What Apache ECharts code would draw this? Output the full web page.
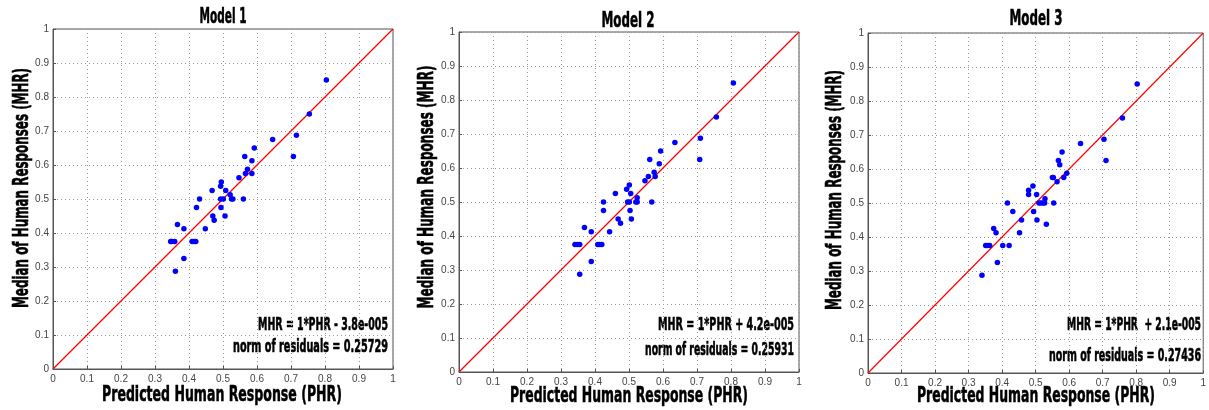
<!DOCTYPE html>
<html><head><meta charset="utf-8">
<script src="https://cdn.jsdelivr.net/npm/echarts@6/dist/echarts.min.js"></script>
<style>html,body{margin:0;padding:0;background:#fff}#c{width:1209px;height:410px}</style>
</head><body><div id="c"></div>
<script>
const titles = ["Model 1", "Model 2", "Model 3"];
const xName = "Predicted Human Response (PHR)";
const yName = "Median of Human Responses (MHR)";
const eqText = ["MHR = 1*PHR - 3.8e-005", "MHR = 1*PHR + 4.2e-005", "MHR = 1*PHR  + 2.1e-005"];
const normText = ["norm of residuals = 0.25729", "norm of residuals = 0.25931", "norm of residuals = 0.27436"];
const fitX = [0, 1];
const fitY1 = [-0.000038, 0.999962];
const fitY2 = [0.000042, 1.000042];
const fitY3 = [0.000021, 1.000021];

const m1x = [0.804,0.754,0.646,0.716,0.707,0.592,0.564,0.585,0.572,0.566,0.585,0.547,0.495,0.493,0.468,0.508,0.521,0.493,0.501,0.525,0.529,0.560,0.431,0.422,0.494,0.470,0.506,0.474,0.448,0.385,0.366,0.346,0.350,0.358,0.409,0.415,0.420,0.385,0.360];
const m1y = [0.85,0.75,0.675,0.6875,0.625,0.65,0.625,0.6125,0.5875,0.575,0.575,0.5625,0.55,0.5375,0.525,0.525,0.5125,0.5,0.5,0.5,0.5,0.5,0.5,0.475,0.475,0.45,0.45,0.4375,0.4125,0.4125,0.425,0.375,0.375,0.375,0.375,0.375,0.375,0.325,0.2875];
const m2x = [0.807,0.757,0.635,0.710,0.708,0.593,0.561,0.589,0.574,0.557,0.577,0.547,0.501,0.493,0.460,0.505,0.524,0.496,0.501,0.520,0.524,0.567,0.425,0.425,0.503,0.468,0.507,0.475,0.443,0.389,0.369,0.341,0.348,0.355,0.408,0.414,0.420,0.389,0.355];
const m2y = [0.85,0.75,0.675,0.6875,0.625,0.65,0.625,0.6125,0.5875,0.575,0.575,0.5625,0.55,0.5375,0.525,0.525,0.5125,0.5,0.5,0.5,0.5,0.5,0.5,0.475,0.475,0.45,0.45,0.4375,0.4125,0.4125,0.425,0.375,0.375,0.375,0.375,0.375,0.375,0.325,0.2875];
const m3x = [0.803,0.759,0.634,0.704,0.710,0.579,0.568,0.572,0.593,0.550,0.553,0.584,0.564,0.492,0.479,0.479,0.503,0.528,0.510,0.516,0.522,0.527,0.554,0.416,0.432,0.494,0.458,0.504,0.532,0.452,0.382,0.375,0.351,0.357,0.363,0.402,0.421,0.386,0.340];
const m3y = [0.85,0.75,0.675,0.6875,0.625,0.65,0.625,0.6125,0.5875,0.575,0.575,0.575,0.5625,0.55,0.5375,0.525,0.525,0.5125,0.5,0.5,0.5,0.5,0.5,0.5,0.475,0.475,0.45,0.45,0.4375,0.4125,0.4125,0.425,0.375,0.375,0.375,0.375,0.375,0.325,0.2875];

const xs = [m1x, m2x, m3x], ys = [m1y, m2y, m3y], fits = [fitY1, fitY2, fitY3];
const grids = [
  {left: 53, top: 29, width: 340, height: 340},
  {left: 459, top: 32, width: 340, height: 340},
  {left: 868, top: 33, width: 340, height: 340}
];
// layout of the heavy condensed labels: [centre/right x, centre y, target width]
const titleBox = [[223, 17.5, 47], [628, 21.5, 53], [1036, 20, 53]];
const xNameBox = [[222, 395.5, 240], [629, 396, 238], [1036, 396, 238]];
const yNameBox = [[22, 188, 240], [427, 187, 243], [835, 190, 240]];
const eqBox = [[388, 326, 130], [794, 326, 136], [1201, 326, 134]];
const normBox = [[388, 347.5, 155], [794, 351, 149], [1201, 356.5, 152]];

const FAM = "'DejaVu Sans',sans-serif";
const TICKFONT = "'Liberation Sans',Arial,sans-serif";
const mctx = document.createElement('canvas').getContext('2d');
function measure(text, font) { mctx.font = font; return mctx.measureText(text).width; }
function heavy(text, size, box, align, rot) {
  const font = 'bold ' + size + 'px ' + FAM;
  const w = measure(text, font);
  return {
    type: 'text', x: box[0], y: box[1], rotation: rot || 0, scaleX: box[2] / w, silent: true,
    style: {text: text, font: font, fill: '#000', stroke: '#000', lineWidth: 0.6,
      align: align, verticalAlign: 'middle', x: 0, y: 0}
  };
}

const chart = echarts.init(document.getElementById('c'), null, {renderer: 'canvas'});
const graphics = [];
for (let i = 0; i < 3; i++) {
  graphics.push(heavy(titles[i], 21, titleBox[i], 'center'));
  graphics.push(heavy(xName, 22, xNameBox[i], 'center'));
  graphics.push(heavy(yName, 22, yNameBox[i], 'center', Math.PI / 2));
  graphics.push(heavy(eqText[i], 17, eqBox[i], 'right'));
  graphics.push(heavy(normText[i], 17, normBox[i], 'right'));
}
const option = {
  animation: false,
  backgroundColor: '#fff',
  grid: grids.map(g => Object.assign({show: true, borderColor: '#555', borderWidth: 1, backgroundColor: 'transparent'}, g)),
  xAxis: grids.map((g, i) => ({
    type: 'value', gridIndex: i, min: 0, max: 1, interval: 0.1,
    axisLine: {show: true, lineStyle: {color: '#555', width: 1}},
    axisTick: {show: true, inside: true, length: 3, lineStyle: {color: '#555'}},
    axisLabel: {fontFamily: TICKFONT, fontSize: 10, color: '#444', margin: 5,
      formatter: v => String(Math.round(v * 10) / 10)},
    splitLine: {show: true, lineStyle: {color: '#999', type: [1, 3], width: 1}}
  })),
  yAxis: grids.map((g, i) => ({
    type: 'value', gridIndex: i, min: 0, max: 1, interval: 0.1,
    axisLine: {show: true, lineStyle: {color: '#555', width: 1}},
    axisTick: {show: true, inside: true, length: 3, lineStyle: {color: '#555'}},
    axisLabel: {fontFamily: TICKFONT, fontSize: 10, color: '#444', margin: 4,
      formatter: v => String(Math.round(v * 10) / 10)},
    splitLine: {show: true, lineStyle: {color: '#999', type: [1, 3], width: 1}}
  })),
  series: [].concat(...[0, 1, 2].map(i => [
    {
      type: 'line', xAxisIndex: i, yAxisIndex: i, data: fitX.map((x, k) => [x, fits[i][k]]),
      showSymbol: false, symbol: 'none', lineStyle: {color: '#ff0000', width: 1.2}, z: 3, silent: true
    },
    {
      type: 'scatter', xAxisIndex: i, yAxisIndex: i, data: xs[i].map((x, k) => [x, ys[i][k]]),
      symbol: 'circle', symbolSize: 5.5, itemStyle: {color: '#0000ff', opacity: 1}, z: 4, silent: true
    }
  ])),
  graphic: graphics
};
chart.setOption(option);
</script>
</body></html>
